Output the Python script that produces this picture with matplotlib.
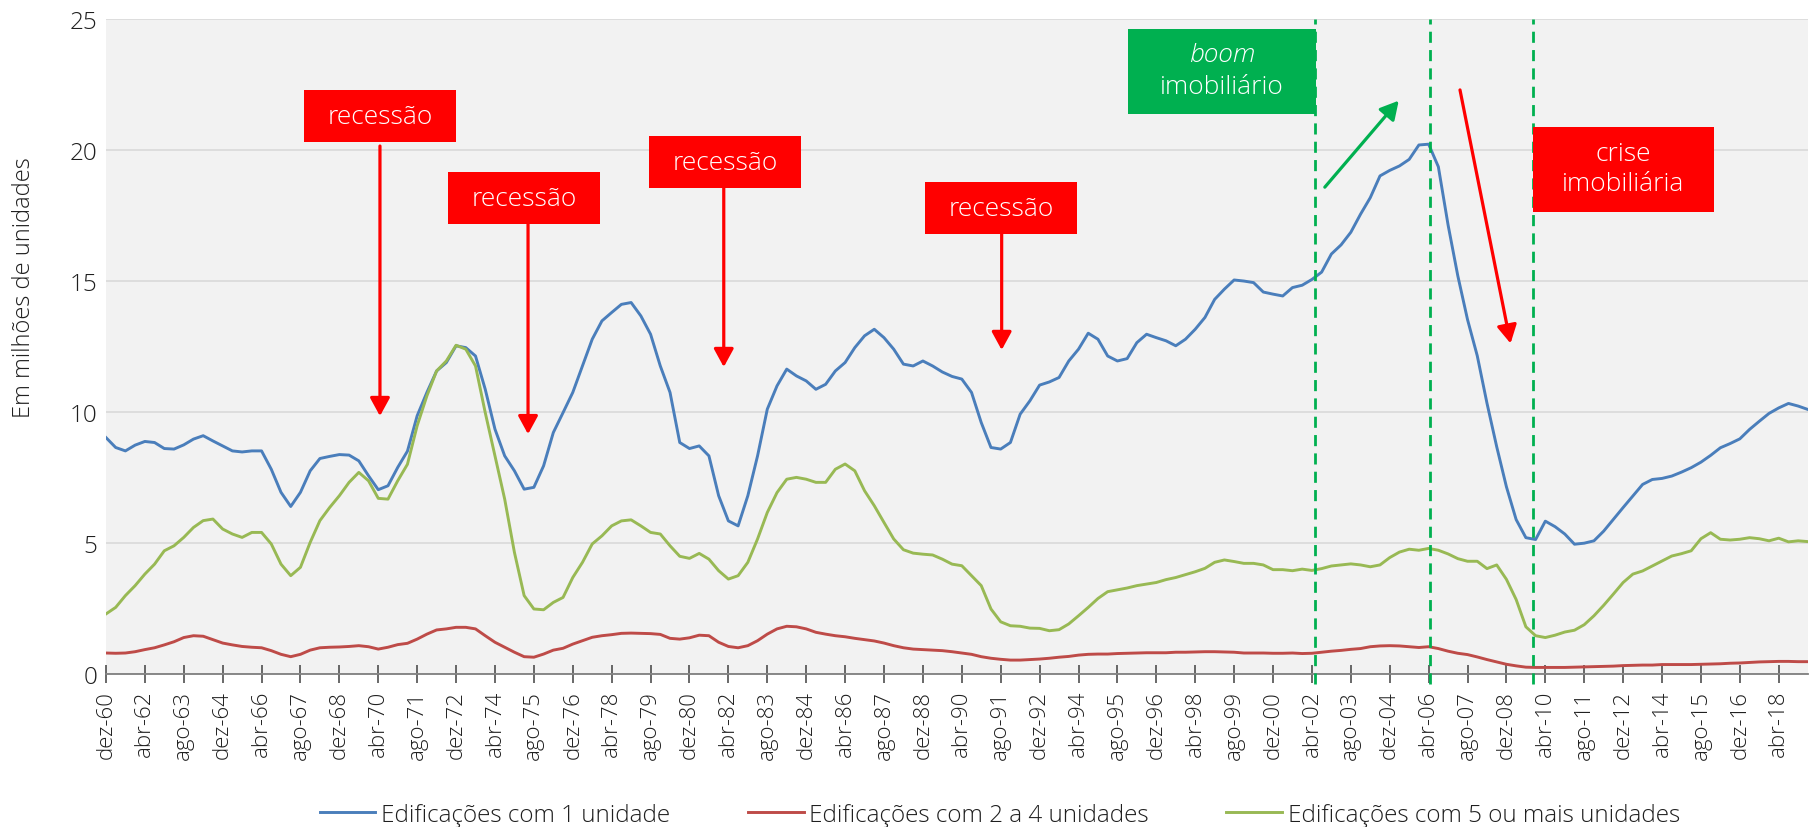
import numpy as np
import pandas as pd
import matplotlib
matplotlib.use("Agg")
import matplotlib.pyplot as plt
from matplotlib.patches import Rectangle, FancyArrowPatch

plt.rcParams['font.family'] = ['Open Sans', 'DejaVu Sans']
plt.rcParams['font.weight'] = 'light'

# ---------------- data (values every 4 months, dez-60 .. abr-19) ----------------
start_date = "1960-12-01"

um_unidade = [
    9.02, 8.64, 8.51, 8.73, 8.87, 8.83, 8.60, 8.58, 8.74, 8.96, 9.09, 8.89, 8.70, 8.51, 8.47, 8.51,
    8.51, 7.81, 6.93, 6.39, 6.93, 7.75, 8.22, 8.30, 8.37, 8.35, 8.13, 7.56, 7.03, 7.18, 7.88, 8.50,
    9.85, 10.74, 11.56, 11.88, 12.52, 12.45, 12.13, 10.86, 9.34, 8.32, 7.75, 7.05, 7.12, 7.94, 9.21, 9.97,
    10.74, 11.75, 12.77, 13.47, 13.79, 14.10, 14.17, 13.66, 12.96, 11.75, 10.74, 8.83, 8.60, 8.70, 8.32, 6.80,
    5.84, 5.65, 6.80, 8.32, 10.10, 10.99, 11.63, 11.37, 11.18, 10.86, 11.05, 11.56, 11.88, 12.45, 12.90, 13.15,
    12.83, 12.39, 11.82, 11.75, 11.94, 11.75, 11.52, 11.35, 11.25, 10.74, 9.59, 8.64, 8.58, 8.83, 9.91, 10.42,
    11.02, 11.14, 11.31, 11.94, 12.39, 13.00, 12.77, 12.13, 11.94, 12.03, 12.64, 12.96, 12.83, 12.71, 12.52, 12.77,
    13.15, 13.60, 14.29, 14.68, 15.03, 14.99, 14.93, 14.57, 14.49, 14.42, 14.74, 14.83, 15.05, 15.33, 16.02, 16.37,
    16.85, 17.54, 18.17, 19.00, 19.21, 19.38, 19.63, 20.18, 20.21, 19.35, 17.13, 15.19, 13.52, 12.14, 10.33, 8.67,
    7.14, 5.89, 5.20, 5.13, 5.83, 5.62, 5.34, 4.95, 4.99, 5.08, 5.45, 5.90, 6.35, 6.79, 7.23, 7.42,
    7.46, 7.55, 7.70, 7.87, 8.08, 8.34, 8.63, 8.79, 8.97, 9.33, 9.64, 9.94, 10.15, 10.32, 10.22, 10.09,
]

dois_a_quatro = [
    0.80, 0.79, 0.80, 0.85, 0.93, 1.00, 1.11, 1.23, 1.39, 1.46, 1.44, 1.31, 1.18, 1.11, 1.05, 1.02,
    1.00, 0.89, 0.75, 0.66, 0.75, 0.91, 1.00, 1.02, 1.03, 1.05, 1.08, 1.04, 0.95, 1.02, 1.12, 1.17,
    1.33, 1.52, 1.68, 1.72, 1.78, 1.78, 1.72, 1.46, 1.21, 1.02, 0.83, 0.66, 0.64, 0.76, 0.91, 0.98,
    1.14, 1.27, 1.40, 1.46, 1.50, 1.55, 1.56, 1.55, 1.54, 1.51, 1.36, 1.33, 1.38, 1.48, 1.46, 1.21,
    1.05, 1.00, 1.08, 1.27, 1.52, 1.72, 1.82, 1.80, 1.72, 1.59, 1.52, 1.46, 1.42, 1.36, 1.31, 1.26,
    1.18, 1.08, 1.00, 0.95, 0.93, 0.91, 0.89, 0.85, 0.80, 0.75, 0.66, 0.60, 0.56, 0.53, 0.53, 0.55,
    0.57, 0.60, 0.64, 0.67, 0.72, 0.75, 0.76, 0.76, 0.78, 0.79, 0.80, 0.81, 0.81, 0.81, 0.83, 0.83,
    0.84, 0.85, 0.85, 0.84, 0.83, 0.80, 0.80, 0.80, 0.79, 0.79, 0.80, 0.78, 0.79, 0.83, 0.87, 0.90,
    0.94, 0.97, 1.04, 1.07, 1.08, 1.07, 1.04, 1.01, 1.04, 0.97, 0.87, 0.79, 0.74, 0.65, 0.55, 0.46,
    0.37, 0.31, 0.26, 0.25, 0.25, 0.25, 0.25, 0.26, 0.27, 0.28, 0.29, 0.30, 0.32, 0.33, 0.34, 0.34,
    0.36, 0.36, 0.36, 0.36, 0.37, 0.38, 0.39, 0.41, 0.42, 0.44, 0.46, 0.47, 0.48, 0.48, 0.47, 0.47,
]

cinco_ou_mais = [
    2.29, 2.54, 2.99, 3.37, 3.81, 4.19, 4.70, 4.89, 5.21, 5.59, 5.85, 5.91, 5.53, 5.34, 5.21, 5.40,
    5.40, 4.96, 4.19, 3.75, 4.07, 5.02, 5.85, 6.35, 6.80, 7.31, 7.69, 7.37, 6.70, 6.67, 7.37, 8.00,
    9.47, 10.61, 11.56, 11.94, 12.54, 12.39, 11.75, 9.97, 8.32, 6.67, 4.64, 2.99, 2.48, 2.45, 2.73, 2.92,
    3.68, 4.26, 4.96, 5.27, 5.65, 5.84, 5.88, 5.65, 5.40, 5.34, 4.89, 4.49, 4.41, 4.60, 4.38, 3.94,
    3.62, 3.75, 4.26, 5.15, 6.16, 6.92, 7.43, 7.50, 7.43, 7.31, 7.31, 7.81, 8.01, 7.75, 6.99, 6.42,
    5.78, 5.15, 4.74, 4.61, 4.57, 4.54, 4.38, 4.19, 4.13, 3.75, 3.37, 2.48, 1.99, 1.84, 1.82, 1.75,
    1.74, 1.65, 1.69, 1.91, 2.22, 2.54, 2.88, 3.14, 3.21, 3.28, 3.37, 3.43, 3.49, 3.60, 3.68, 3.79,
    3.90, 4.03, 4.26, 4.35, 4.29, 4.22, 4.22, 4.16, 3.98, 3.98, 3.94, 4.00, 3.95, 4.02, 4.12, 4.16,
    4.20, 4.16, 4.09, 4.16, 4.44, 4.65, 4.76, 4.72, 4.79, 4.72, 4.58, 4.40, 4.30, 4.30, 4.02, 4.16,
    3.61, 2.84, 1.80, 1.46, 1.39, 1.48, 1.60, 1.67, 1.88, 2.22, 2.62, 3.05, 3.49, 3.81, 3.93, 4.12,
    4.31, 4.50, 4.59, 4.70, 5.16, 5.39, 5.14, 5.11, 5.14, 5.20, 5.16, 5.08, 5.18, 5.04, 5.08, 5.05,
]

series_names = ["Edificações com 1 unidade", "Edificações com 2 a 4 unidades",
                "Edificações com 5 ou mais unidades"]
series_colors = ["#4A7EBB", "#BE4B48", "#98B954"]

tick_labels = [
    "dez-60", "abr-62", "ago-63", "dez-64", "abr-66", "ago-67", "dez-68", "abr-70", "ago-71",
    "dez-72", "abr-74", "ago-75", "dez-76", "abr-78", "ago-79", "dez-80", "abr-82", "ago-83",
    "dez-84", "abr-86", "ago-87", "dez-88", "abr-90", "ago-91", "dez-92", "abr-94", "ago-95",
    "dez-96", "abr-98", "ago-99", "dez-00", "abr-02", "ago-03", "dez-04", "abr-06", "ago-07",
    "dez-08", "abr-10", "ago-11", "dez-12", "abr-14", "ago-15", "dez-16", "abr-18",
]

# ---------------- x positions: months elapsed since dez-60 ----------------
t0 = pd.Timestamp(start_date)
dates = pd.date_range(start_date, periods=len(um_unidade), freq="4MS")
x = np.array([(d.year - t0.year) * 12 + (d.month - t0.month) for d in dates], dtype=float)
tick_dates = pd.date_range(start_date, periods=len(tick_labels), freq="16MS")
tick_x = [(d.year - t0.year) * 12 + (d.month - t0.month) for d in tick_dates]


def mpos(ym):
    d = pd.Timestamp(ym)
    return (d.year - t0.year) * 12 + (d.month - t0.month) + (d.day - 1) / 30.0


# ---------------- figure ----------------
fig = plt.figure(figsize=(18.11, 8.28), dpi=100)
ax = fig.add_axes([0.0585, 0.1848, 0.9398, 0.7915])
ax.set_facecolor("#F2F2F2")

for vals, name, col in zip([um_unidade, dois_a_quatro, cinco_ou_mais], series_names, series_colors):
    ax.plot(x, vals, color=col, lw=2.1, label=name, solid_joinstyle="round", zorder=3)

ax.set_xlim(x[0], x[-1])
ax.set_ylim(0, 25)
ax.set_yticks([0, 5, 10, 15, 20, 25])
ax.grid(axis="y", color="#D9D9D9", lw=1.2, zorder=0)
ax.set_axisbelow(True)
for s in ["left", "right", "top"]:
    ax.spines[s].set_visible(False)
ax.spines["bottom"].set_color("#7F7F7F")
ax.spines["bottom"].set_linewidth(1.3)

ax.set_xticks(tick_x)
ax.set_xticklabels(tick_labels, rotation=90, ha="center", fontsize=16, color="#1F1F1F")
ax.tick_params(axis="x", direction="inout", length=13, width=1.1, color="#404040", pad=5)
ax.tick_params(axis="y", length=0, pad=6, labelsize=17.5, labelcolor="#1F1F1F")

fig.text(24 / 1811, 1 - 288 / 828, "Em milhões de unidades", rotation=90,
         ha="center", va="center", fontsize=17, color="#1F1F1F")

# ---------------- vertical dashed lines ----------------
for m in [mpos("2002-05-15"), mpos("2006-04-15"), mpos("2009-11-01")]:
    ax.plot([m, m], [-0.4, 25], color="#00B050", lw=2.0, ls=(0, (4, 2.6)),
            clip_on=False, zorder=4)

# ---------------- annotation boxes ----------------
RED = "#FF0000"
GREEN = "#00B050"


def box(x0, x1, y0, y1, color):
    ax.add_patch(Rectangle((x0, y0), x1 - x0, y1 - y0, facecolor=color,
                           edgecolor="none", zorder=6, clip_on=False))


def arrow(xa, ya, xb, yb, color):
    ax.add_patch(FancyArrowPatch((xa, ya), (xb, yb),
                                 arrowstyle="-|>,head_length=0.55,head_width=0.3",
                                 mutation_scale=20, color=color, lw=2.3,
                                 shrinkA=0, shrinkB=0, zorder=6))


rec_boxes = [(81.4, 143.9, 20.29, 22.27), (140.7, 203.2, 17.16, 19.15),
             (223.3, 285.8, 18.54, 20.52), (336.8, 399.4, 16.78, 18.76)]
for (x0, x1, y0, y1) in rec_boxes:
    box(x0, x1, y0, y1, RED)
    ax.text((x0 + x1) / 2, (y0 + y1) / 2, "recessão", color="white", fontsize=19,
            ha="center", va="center", zorder=7)

rec_arrows = [(112.7, 20.14, 9.84), (173.6, 17.16, 9.15),
              (254.1, 18.54, 11.71), (368.4, 16.78, 12.36)]
for (xa, ya, yb) in rec_arrows:
    arrow(xa, ya, xa, yb, RED)

# boom imobiliário
box(420.3, 497.6, 21.36, 24.60, GREEN)
ax.text(459, 23.62, "boom", style="italic", color="white", fontsize=19,
        ha="center", va="center", zorder=7)
ax.text(459, 22.40, "imobiliário", color="white", fontsize=19,
        ha="center", va="center", zorder=7)
arrow(501.3, 18.57, 531.7, 21.87, GREEN)

# crise imobiliária
box(586.9, 661.4, 17.62, 20.86, RED)
ax.text(624, 19.85, "crise", color="white", fontsize=19, ha="center", va="center", zorder=7)
ax.text(624, 18.70, "imobiliária", color="white", fontsize=19, ha="center", va="center", zorder=7)
arrow(556.9, 22.28, 577.7, 12.61, RED)

# ---------------- legend ----------------
leg = fig.legend(loc="center", bbox_to_anchor=(0.552, 0.015), ncol=3, frameon=False,
                 fontsize=17.5, handlelength=2.3, handletextpad=0.22, columnspacing=3.2,
                 labelcolor="#1F1F1F")
for ln in leg.get_lines():
    ln.set_linewidth(2.1)

fig.savefig("out.png", dpi=100, facecolor="white")
